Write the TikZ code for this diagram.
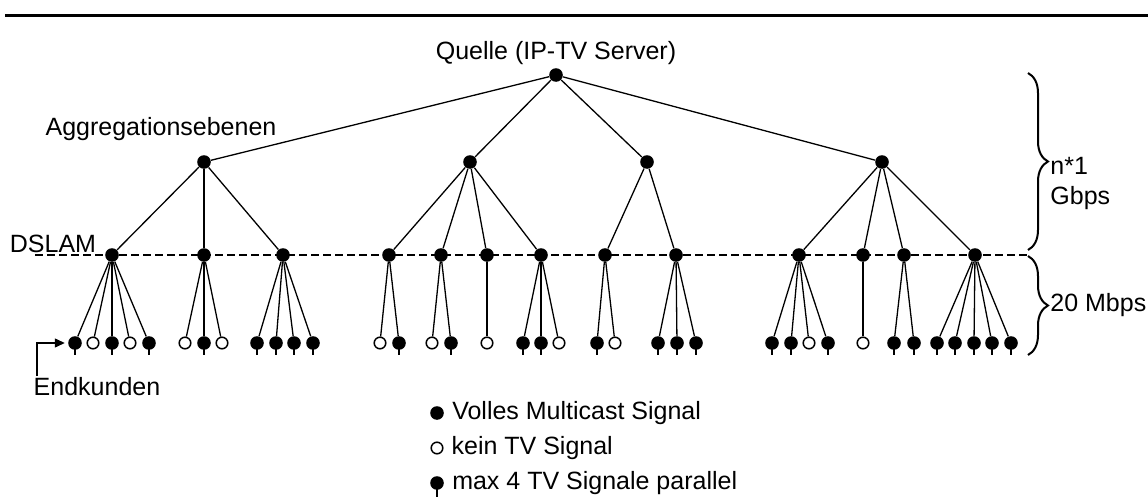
\documentclass[tikz,border=0pt]{standalone}
\usepackage{fontspec}
\setmainfont{Liberation Sans}
\usepackage{tikz}
\usetikzlibrary{positioning, arrows.meta, decorations.pathreplacing}

\begin{document}
\begin{tikzpicture}[x=0.5pt, y=-0.5pt,
    font=\fontsize{12.5pt}{15pt}\selectfont,
    voll/.style={circle, fill=black, inner sep=0pt, minimum size=6.8pt},
    leer/.style={circle, draw=black, fill=white, line width=0.75pt, inner sep=0pt, minimum size=5.8pt},
    linie/.style={line width=0.65pt},
    klammer/.style={decorate, decoration={brace, amplitude=10pt}, line width=1pt}]
    \useasboundingbox (0,0) rectangle (1148,498);
    \draw[line width=1.5pt] (5,15) -- (1148,15);

    % Quelle und Aggregation
    \node[voll] (quelle) at (556,75) {};
    \node (quelletext) at (556,53) {Quelle (IP-TV Server)};
    \node (aggtext) at (161,129) {Aggregationsebenen};
    \foreach \i/\x in {1/204, 2/470, 3/647, 4/882} {
        \node[voll] (agg\i) at (\x,162) {};
        \draw[linie] (quelle) -- (agg\i);
    }

    % DSLAM-Ebene
    \node (dslamtext) at (53,244) {DSLAM};
    \coordinate (dl) at (35,255);
    \coordinate (dr) at (1027,255);
    \draw[linie, dash pattern=on 4pt off 2pt] (dl) -- (dr);
    \foreach \i/\x/\a in {1/112/1, 2/204/1, 3/283/1, 4/389/2, 5/441/2, 6/487/2, 7/541/2,
                          8/605/3, 9/676/3, 10/799/4, 11/863/4, 12/904/4, 13/975/4} {
        \node[voll] (dslam\i) at (\x,255) {};
        \draw[linie] (agg\a) -- (dslam\i);
    }

    % Endkunden
    \foreach \i/\x/\t/\d in {1/75/voll/1, 2/93/leer/1, 3/112/voll/1, 4/130/leer/1, 5/149/voll/1,
                             6/185/leer/2, 7/204/voll/2, 8/222/leer/2,
                             9/257/voll/3, 10/276/voll/3, 11/294/voll/3, 12/313/voll/3,
                             13/380/leer/4, 14/399/voll/4, 15/432/leer/5, 16/451/voll/5,
                             17/487/leer/6, 18/523/voll/7, 19/541/voll/7, 20/559/leer/7,
                             21/597/voll/8, 22/615/leer/8, 23/658/voll/9, 24/677/voll/9, 25/696/voll/9,
                             26/772/voll/10, 27/791/voll/10, 28/809/leer/10, 29/828/voll/10,
                             30/863/leer/11, 31/894/voll/12, 32/914/voll/12,
                             33/937/voll/13, 34/955/voll/13, 35/974/voll/13, 36/992/voll/13, 37/1011/voll/13} {
        \node[\t] (kunde\i) at (\x,343) {};
        \draw[linie] (dslam\d) -- (kunde\i);
    }
    \foreach \i in {1,3,5,7,9,10,11,12,14,16,18,19,21,23,24,25,26,27,29,31,32,33,34,35,36,37}
        \draw[linie] (kunde\i.center) -- ++(0,12);

    \node (endkunden) at (97,387) {Endkunden};
    \coordinate (pfeil) at (37,376);
    \draw[linie, -{Triangle[length=5pt, width=4.5pt]}, shorten >=1.5pt] (pfeil) |- (kunde1);

    % Bandbreiten
    \coordinate (g1) at (1028,73);
    \coordinate (g2) at (1028,250);
    \draw[klammer] (g1) -- (g2);
    \node[anchor=north west, align=left, inner sep=0pt] (gbps) at (1050,157) {n*1\\Gbps};
    \coordinate (m1) at (1028,256);
    \coordinate (m2) at (1028,355);
    \draw[klammer] (m1) -- (m2);
    \node[anchor=west, inner sep=0pt] (mbps) at (1050,305) {20 Mbps};

    % Legende
    \node[voll] (lvoll) at (437,413) {};
    \node[right=0.5pt of lvoll] (tvoll) {Volles Multicast Signal};
    \node[leer] (lleer) at (437,448) {};
    \node[right=0.5pt of lleer] (tleer) {kein TV Signal};
    \node[voll] (lmax) at (437,483) {};
    \draw[linie] (lmax.center) -- ++(0,14);
    \node[right=0.5pt of lmax] (tmax) {max 4 TV Signale parallel};
\end{tikzpicture}
\end{document}
